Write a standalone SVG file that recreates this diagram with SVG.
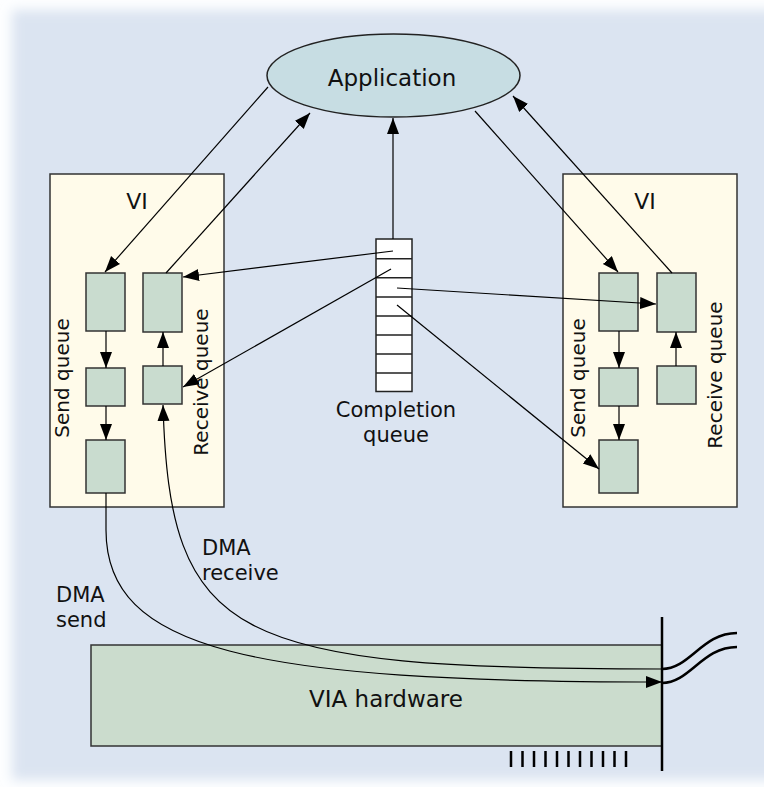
<svg xmlns="http://www.w3.org/2000/svg" width="764" height="787" viewBox="0 0 764 787">
<defs>
<filter id="soft" x="-5%" y="-5%" width="110%" height="110%"><feGaussianBlur stdDeviation="6"/></filter>
<marker id="ah" markerUnits="userSpaceOnUse" markerWidth="18" markerHeight="14" refX="16" refY="6" orient="auto"><path d="M0,0 L16,6 L0,12 z" fill="#000"/></marker>
<style>
.vi{fill:#fffbea;stroke:#333;stroke-width:1.5}
.q{fill:#c9dccf;stroke:#333;stroke-width:1.5}
.ln{fill:none;stroke:#000;stroke-width:1.2}
.arr{marker-end:url(#ah)}
.t{font-family:"DejaVu Sans",Verdana,sans-serif;fill:#111}
.thick{fill:none;stroke:#000;stroke-width:2.5}
</style>
</defs>
<rect width="764" height="787" fill="#fdfeff"/>
<rect x="12" y="10" width="800" height="770" fill="#dbe4f1" filter="url(#soft)"/>

<g id="application">
<ellipse cx="393.5" cy="75.5" rx="126.5" ry="41.5" fill="#c7dde3" stroke="#222" stroke-width="1.5"/>
<text class="t" x="392" y="86" font-size="23" text-anchor="middle">Application</text>
</g>

<g id="vi-left">
<rect class="vi" x="50" y="174" width="174" height="333"/>
<text class="t" x="137" y="209" font-size="22" text-anchor="middle">VI</text>
<text class="t" font-size="20" text-anchor="middle" transform="translate(69,378) rotate(-90)">Send queue</text>
<text class="t" font-size="20" text-anchor="middle" transform="translate(207.5,382) rotate(-90)">Receive queue</text>
</g>
<g id="left-send-1"><rect class="q" x="86" y="273" width="39" height="58"/></g>
<g id="left-send-2"><rect class="q" x="86" y="368" width="39" height="38"/></g>
<g id="left-send-3"><rect class="q" x="86" y="440" width="39" height="53"/></g>
<g id="left-recv-1"><rect class="q" x="143" y="273" width="39" height="59"/></g>
<g id="left-recv-2"><rect class="q" x="143" y="366" width="39" height="38"/></g>

<g id="vi-right">
<rect class="vi" x="563" y="174" width="174" height="333"/>
<text class="t" x="645" y="209" font-size="22" text-anchor="middle">VI</text>
<text class="t" font-size="20" text-anchor="middle" transform="translate(585,378) rotate(-90)">Send queue</text>
<text class="t" font-size="20" text-anchor="middle" transform="translate(722,375) rotate(-90)">Receive queue</text>
</g>
<g id="right-send-1"><rect class="q" x="599" y="273" width="39" height="58"/></g>
<g id="right-send-2"><rect class="q" x="599" y="368" width="39" height="38"/></g>
<g id="right-send-3"><rect class="q" x="599" y="440" width="39" height="53"/></g>
<g id="right-recv-1"><rect class="q" x="657" y="273" width="39" height="59"/></g>
<g id="right-recv-2"><rect class="q" x="657" y="366" width="39" height="38"/></g>

<g id="completion-queue">
<rect x="376" y="239" width="36" height="152.5" fill="#fff" stroke="#222" stroke-width="1.5"/>
<path d="M376,258.7H412M376,277.7H412M376,297H412M376,316H412M376,335H412M376,354H412M376,373H412" stroke="#222" stroke-width="1.5"/>
<text class="t" font-size="21" text-anchor="middle"><tspan x="396" y="417">Completion</tspan><tspan x="396" y="442">queue</tspan></text>
</g>

<g id="via-hardware">
<rect x="91" y="645" width="571" height="101" fill="#cbdccd" stroke="#333" stroke-width="1.5"/>
<text class="t" x="386" y="707" font-size="23" text-anchor="middle">VIA hardware</text>
<line class="thick" x1="662" y1="617" x2="662" y2="771"/>
<path class="thick" d="M662,669 C690,669 702,633 737,633"/>
<path class="thick" d="M662,683 C690,683 702,647 737,647"/>
<path d="M511,751V767M522.5,751V767M534,751V767M545.5,751V767M557,751V767M568.5,751V767M580,751V767M591.5,751V767M603,751V767M614.5,751V767M626,751V767" stroke="#000" stroke-width="2.5"/>
</g>

<g id="connectors">
<line class="ln arr" x1="268" y1="87" x2="105" y2="272"/>
<line class="ln arr" x1="166" y1="273" x2="310" y2="113"/>
<line class="ln arr" x1="475" y1="111" x2="618" y2="272"/>
<line class="ln arr" x1="672" y1="273" x2="513" y2="96"/>
<line class="ln arr" x1="393" y1="239" x2="393" y2="118"/>
<line class="ln arr" x1="106" y1="331" x2="106" y2="368"/>
<line class="ln arr" x1="106" y1="406" x2="106" y2="440"/>
<line class="ln arr" x1="163" y1="366" x2="163" y2="332"/>
<line class="ln arr" x1="619" y1="331" x2="619" y2="368"/>
<line class="ln arr" x1="619" y1="406" x2="619" y2="440"/>
<line class="ln arr" x1="676" y1="366" x2="676" y2="332"/>
<line class="ln arr" x1="393" y1="251" x2="183" y2="277"/>
<line class="ln arr" x1="391" y1="269" x2="183" y2="387"/>
<line class="ln arr" x1="397" y1="288" x2="656" y2="304"/>
<line class="ln arr" x1="397" y1="305" x2="599" y2="469"/>
<path class="ln arr" d="M106,493 L106,530 C106,650 250,682 662,682"/>
<path class="ln arr" d="M662,669 C230,669 170,640 163,405"/>
</g>

<g id="dma-labels">
<text class="t" font-size="21"><tspan x="202" y="555">DMA</tspan><tspan x="202" y="580">receive</tspan></text>
<text class="t" font-size="21"><tspan x="56" y="602">DMA</tspan><tspan x="56" y="627">send</tspan></text>
</g>
</svg>
